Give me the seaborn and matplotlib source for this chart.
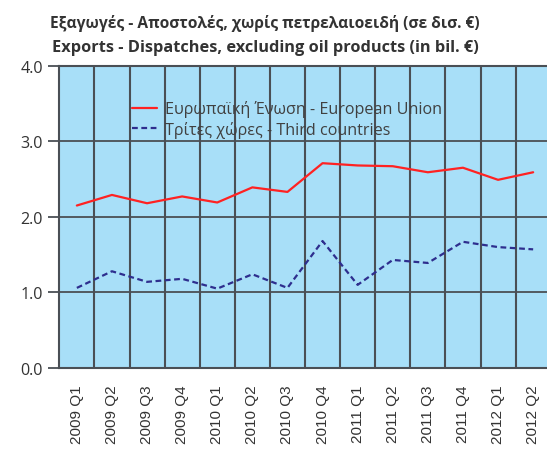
import matplotlib
matplotlib.use("Agg")
import matplotlib.pyplot as plt
import numpy as np
import pandas as pd
import seaborn as sns

# Quarterly exports/dispatches excluding oil products, billion euro
quarters = ["2009 Q1", "2009 Q2", "2009 Q3", "2009 Q4",
            "2010 Q1", "2010 Q2", "2010 Q3", "2010 Q4",
            "2011 Q1", "2011 Q2", "2011 Q3", "2011 Q4",
            "2012 Q1", "2012 Q2"]
eu_values = [2.15, 2.29, 2.18, 2.27, 2.19, 2.39, 2.33, 2.71,
             2.68, 2.67, 2.59, 2.65, 2.49, 2.59]
third_values = [1.06, 1.28, 1.14, 1.18, 1.05, 1.24, 1.06, 1.68,
                1.10, 1.43, 1.39, 1.67, 1.60, 1.57]
series_names = ["Ευρωπαϊκή Ένωση - European Union",
                "Τρίτες χώρες - Third countries"]
y_ticks = [0.0, 1.0, 2.0, 3.0, 4.0]
y_tick_labels = ["0.0", "1.0", "2.0", "3.0", "4.0"]
title_lines = ["Εξαγωγές - Αποστολές, χωρίς πετρελαιοειδή (σε δισ. €)",
               "Exports - Dispatches, excluding oil products (in bil. €)"]

sns.set_theme(style="white")
plt.rcParams["font.family"] = ["Open Sans", "DejaVu Sans"]

df = pd.DataFrame({
    "quarter": quarters * 2,
    "value": eu_values + third_values,
    "series": [series_names[0]] * len(quarters) + [series_names[1]] * len(quarters),
})

grid_color = "#4a4f55"
text_color = "#333333"

W, H = 547, 452
fig = plt.figure(figsize=(W / 100, H / 100), dpi=100)
left, right, top, bottom = 59.3, 550.7, 66.7, 369.0
ax = fig.add_axes([left / W, 1 - bottom / H, (right - left) / W, (bottom - top) / H])
ax.set_facecolor("#a8dff8")

sns.lineplot(
    data=df, x="quarter", y="value", hue="series", style="series",
    palette={series_names[0]: "#ff2222", series_names[1]: "#2e2e8e"},
    dashes={series_names[0]: "", series_names[1]: (2.6, 1.6)},
    linewidth=1.6, ax=ax, zorder=3,
)

ax.set_xlim(-0.5, len(quarters) - 0.5)
ax.set_ylim(0, 4)
ax.set_xticks(range(len(quarters)))
ax.set_xticklabels(quarters, rotation=90, family="Liberation Sans",
                   fontsize=11, color=text_color)
ax.set_xticks(np.arange(0.5, len(quarters), 1.0), minor=True)
ax.set_yticks(y_ticks)
ax.set_yticklabels(y_tick_labels, fontsize=11.6, color=text_color)
ax.tick_params(axis="x", which="both", length=0, pad=12)
ax.tick_params(axis="y", which="major", length=8, width=1.3,
               color=grid_color, direction="out", pad=4, left=True)

ax.grid(which="minor", axis="x", color=grid_color, linewidth=1.5)
ax.grid(which="major", axis="y", color=grid_color, linewidth=1.3)
ax.set_axisbelow(True)
for name, sp in ax.spines.items():
    sp.set_color(grid_color)
    sp.set_linewidth(1.5)
ax.spines["right"].set_visible(False)

ax.set_xlabel("")
ax.set_ylabel("")

leg = ax.legend(loc="upper left", bbox_to_anchor=(0.147, 0.885),
                frameon=False, fontsize=11.6, handlelength=1.55,
                handletextpad=0.5, labelspacing=0.22, borderpad=0,
                borderaxespad=0)
for t in leg.get_texts():
    t.set_color("#404040")

fig.text(265 / W, 1 - 28.3 / H, title_lines[0], ha="center", va="baseline",
         fontsize=11.2, fontweight="bold", color=text_color)
fig.text(265 / W, 1 - 51.7 / H, title_lines[1], ha="center", va="baseline",
         fontsize=11.8, fontweight="bold", color=text_color)

fig.savefig("out.png", dpi=100)
